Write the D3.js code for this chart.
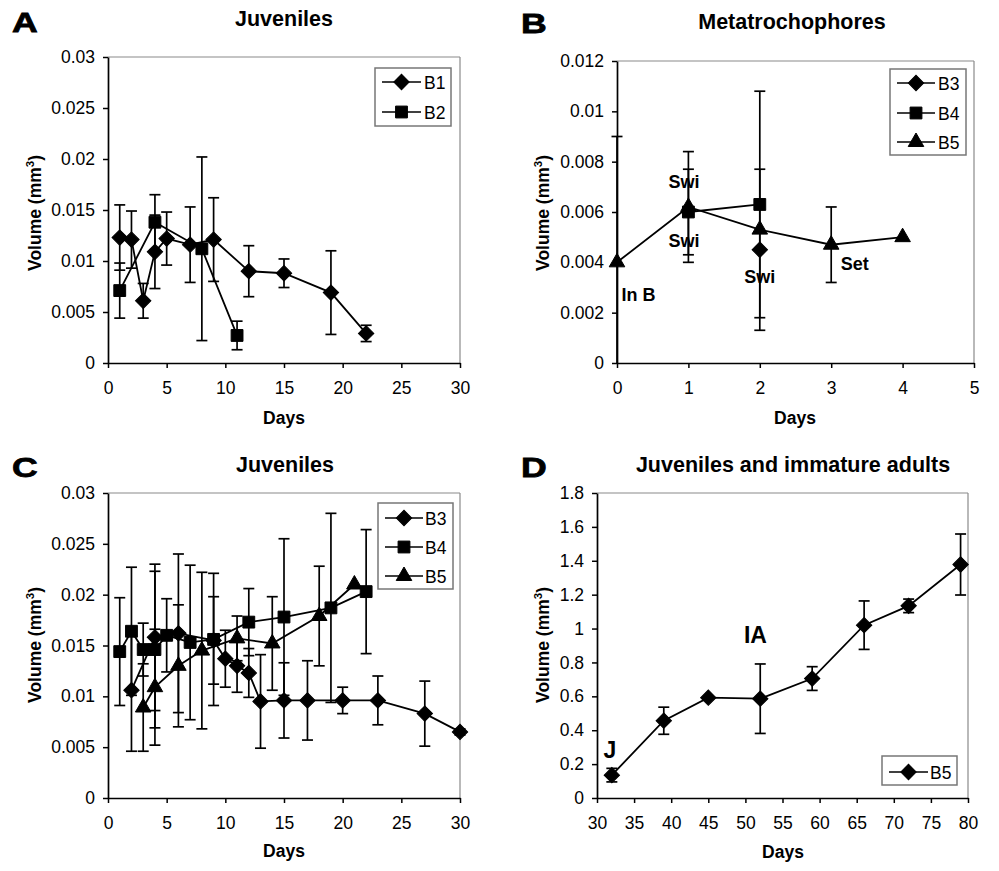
<!DOCTYPE html>
<html>
<head>
<meta charset="utf-8">
<script src="https://cdn.jsdelivr.net/npm/d3@7"></script>
<style>
  html, body { margin: 0; padding: 0; background: #fff; }
  svg { display: block; }
  text { font-family: "Liberation Sans", Arial, sans-serif; fill: #000; }
</style>
</head>
<body>
<div id="chart"></div>
<script>
// ---------------- DATA ----------------
// Panel A : Juveniles (B1, B2)
const daysA_B1 = [1, 2, 3, 4, 5, 7, 9, 12, 15, 19, 22];
const volA_B1  = [0.0123, 0.0121, 0.0061, 0.0109, 0.0122, 0.0116, 0.0121, 0.0090, 0.0088, 0.0069, 0.0029];
const errA_B1  = [0.0032, 0.0028, 0.0017, 0.0036, 0.0026, 0.0037, 0.0041, 0.0025, 0.0014, 0.0041, 0.0008];
const daysA_B2 = [1, 4, 8, 11];
const volA_B2  = [0.0071, 0.0138, 0.0112, 0.0027];
const errA_B2  = [0.0027, 0.0027, 0.0090, 0.0014];

// Panel B : Metatrochophores (B3, B4, B5)
const daysB_B3 = [2];
const volB_B3  = [0.0045];
const errB_B3  = [0.0032];
const daysB_B4 = [1, 2];
const volB_B4  = [0.0060, 0.0063];
const errB_B4  = [0.0017, 0.0045];
const daysB_B5 = [0, 1, 2, 3, 4];
const volB_B5  = [0.0040, 0.0062, 0.0053, 0.0047, 0.0050];
const errB_B5  = [0.0050, 0.0022, 0, 0.0015, 0];
const notesB_text = ["Swi", "Swi", "Swi", "In B", "Set"];
const notesB_day  = [0.94, 0.94, 2.0, 0.30, 3.33];
const notesB_vol  = [0.00695, 0.00461, 0.00318, 0.00246, 0.0037];

// Panel C : Juveniles (B3, B4, B5)
const daysC_B3 = [2, 4, 6, 9, 10, 11, 12, 13, 15, 17, 20, 23, 27, 30];
const volC_B3  = [0.0106, 0.0158, 0.0162, 0.0155, 0.0137, 0.0130, 0.0123, 0.0095, 0.0096, 0.0096, 0.0096, 0.0096, 0.0083, 0.0065];
const errC_B3  = [0.0060, 0.0072, 0.0078, 0.0043, 0.0028, 0.0026, 0.0024, 0.0046, 0.0037, 0.0039, 0.0013, 0.0024, 0.0032, 0.0003];
const daysC_B4 = [1, 2, 3, 4, 5, 7, 9, 12, 15, 19, 22];
const volC_B4  = [0.0144, 0.0164, 0.0146, 0.0146, 0.0160, 0.0153, 0.0156, 0.0173, 0.0178, 0.0187, 0.0203];
const errC_B4  = [0.0053, 0.0063, 0.0026, 0.0077, 0.0036, 0.0076, 0.0065, 0.0033, 0.0077, 0.0093, 0.0061];
const daysC_B5 = [3, 4, 6, 8, 11, 14, 18, 21];
const volC_B5  = [0.0089, 0.0109, 0.0130, 0.0145, 0.0157, 0.0152, 0.0179, 0.0210];
const errC_B5  = [0.0043, 0.0057, 0.0060, 0.0077, 0.0022, 0.0046, 0.0049, 0];

// Panel D : Juveniles and immature adults (B5)
const daysD_B5 = [32, 39, 45, 52, 59, 66, 72, 79];
const volD_B5  = [0.135, 0.456, 0.592, 0.586, 0.705, 1.020, 1.134, 1.378];
const errD_B5  = [0.040, 0.080, 0, 0.205, 0.070, 0.143, 0.040, 0.180];
const notesD_text = ["IA", "J"];
const notesD_day  = [51.36, 31.75];
const notesD_vol  = [0.915, 0.236];

// Tick labels
const ticksJuvY  = [0, 0.005, 0.01, 0.015, 0.02, 0.025, 0.03];
const labelsJuvY = ["0", "0.005", "0.01", "0.015", "0.02", "0.025", "0.03"];
const ticksJuvX  = [0, 5, 10, 15, 20, 25, 30];
const labelsJuvX = ["0", "5", "10", "15", "20", "25", "30"];
const ticksMetY  = [0, 0.002, 0.004, 0.006, 0.008, 0.01, 0.012];
const labelsMetY = ["0", "0.002", "0.004", "0.006", "0.008", "0.01", "0.012"];
const ticksMetX  = [0, 1, 2, 3, 4, 5];
const labelsMetX = ["0", "1", "2", "3", "4", "5"];
const ticksAdY   = [0, 0.2, 0.4, 0.6, 0.8, 1, 1.2, 1.4, 1.6, 1.8];
const labelsAdY  = ["0", "0.2", "0.4", "0.6", "0.8", "1", "1.2", "1.4", "1.6", "1.8"];
const ticksAdX   = [30, 35, 40, 45, 50, 55, 60, 65, 70, 75, 80];
const labelsAdX  = ["30", "35", "40", "45", "50", "55", "60", "65", "70", "75", "80"];

// ---------------- CHART ----------------
const W = 999, H = 871;
const svg = d3.select("#chart").append("svg").attr("width", W).attr("height", H);

function mkSeries(name, shape, days, vols, errs) {
  return { name, shape, pts: days.map((d, i) => ({ x: d, y: vols[i], e: errs[i] })) };
}
function mkNotes(texts, days, vols, size) {
  return texts.map((t, i) => ({ t, x: days[i], y: vols[i], size }));
}

const panels = [
  {
    letter: "A", letterPos: [12, 32], title: "Juveniles", titlePos: [284, 26],
    rect: { l: 108, r: 460, t: 57, b: 363 },
    xDomain: [0, 30], yDomain: [0, 0.03],
    xTicks: ticksJuvX, xLabels: labelsJuvX, yTicks: ticksJuvY, yLabels: labelsJuvY,
    ylabPos: [41, 213], xlabPos: [284, 424],
    series: [mkSeries("B1", "diamond", daysA_B1, volA_B1, errA_B1),
             mkSeries("B2", "square", daysA_B2, volA_B2, errA_B2)],
    legend: { x: 375, y: 68, w: 76, h: 58, rows: [82, 112], lx0: 382, lx1: 421, tx: 424 },
    notes: []
  },
  {
    letter: "B", letterPos: [521, 33], title: "Metatrochophores", titlePos: [792, 29],
    rect: { l: 617, r: 974, t: 61, b: 363 },
    xDomain: [0, 5], yDomain: [0, 0.012],
    xTicks: ticksMetX, xLabels: labelsMetX, yTicks: ticksMetY, yLabels: labelsMetY,
    ylabPos: [549, 213], xlabPos: [795, 424],
    series: [mkSeries("B3", "diamond", daysB_B3, volB_B3, errB_B3),
             mkSeries("B4", "square", daysB_B4, volB_B4, errB_B4),
             mkSeries("B5", "triangle", daysB_B5, volB_B5, errB_B5)],
    legend: { x: 890, y: 69, w: 76, h: 86, rows: [83, 113, 142], lx0: 897, lx1: 935, tx: 938 },
    notes: mkNotes(notesB_text, notesB_day, notesB_vol, 18)
  },
  {
    letter: "C", letterPos: [12, 477], title: "Juveniles", titlePos: [285, 472],
    rect: { l: 108, r: 460, t: 493, b: 798 },
    xDomain: [0, 30], yDomain: [0, 0.03],
    xTicks: ticksJuvX, xLabels: labelsJuvX, yTicks: ticksJuvY, yLabels: labelsJuvY,
    ylabPos: [41, 645], xlabPos: [284, 857],
    series: [mkSeries("B3", "diamond", daysC_B3, volC_B3, errC_B3),
             mkSeries("B4", "square", daysC_B4, volC_B4, errC_B4),
             mkSeries("B5", "triangle", daysC_B5, volC_B5, errC_B5)],
    legend: { x: 378, y: 503, w: 75, h: 86, rows: [518, 547, 576], lx0: 385, lx1: 423, tx: 425 },
    notes: []
  },
  {
    letter: "D", letterPos: [521, 477], title: "Juveniles and immature adults", titlePos: [793, 472],
    rect: { l: 597, r: 968, t: 493, b: 798 },
    xDomain: [30, 80], yDomain: [0, 1.8],
    xTicks: ticksAdX, xLabels: labelsAdX, yTicks: ticksAdY, yLabels: labelsAdY,
    ylabPos: [549, 645], xlabPos: [783, 858],
    series: [mkSeries("B5", "diamond", daysD_B5, volD_B5, errD_B5)],
    legend: { x: 882, y: 756, w: 75, h: 29, rows: [772], lx0: 889, lx1: 928, tx: 930 },
    notes: mkNotes(notesD_text, notesD_day, notesD_vol, 23)
  }
];

const symbolFor = {
  diamond: { type: d3.symbolSquare, size: 118, rot: 45 },
  square: { type: d3.symbolSquare, size: 140, rot: 0 },
  triangle: { type: d3.symbolTriangle, size: 105, rot: 0 }
};

function drawMarker(g, shape, cx, cy) {
  const s = symbolFor[shape];
  g.append("path")
    .attr("d", d3.symbol().type(s.type).size(s.size)())
    .attr("transform", `translate(${cx},${cy}) rotate(${s.rot})`)
    .attr("fill", "#000").attr("stroke", "#000").attr("stroke-width", 1);
}

panels.forEach(p => {
  const g = svg.append("g");
  const R = p.rect;
  const x = d3.scaleLinear().domain(p.xDomain).range([R.l, R.r]);
  const y = d3.scaleLinear().domain(p.yDomain).range([R.b, R.t]);

  // panel letter & title
  g.append("text").text(p.letter)
    .attr("transform", `translate(${p.letterPos[0]},${p.letterPos[1]}) scale(1.25,1)`)
    .attr("font-size", 28.5).attr("font-weight", "bold")
    .attr("stroke", "#000").attr("stroke-width", 0.8);
  g.append("text").text(p.title)
    .attr("x", p.titlePos[0]).attr("y", p.titlePos[1])
    .attr("text-anchor", "middle").attr("font-size", 21.5).attr("font-weight", "bold");

  // plot frame (top/right in grey)
  g.append("line").attr("x1", R.l).attr("x2", R.r).attr("y1", R.t).attr("y2", R.t)
    .attr("stroke", "#8a8a8a").attr("stroke-width", 1.2);
  g.append("line").attr("x1", R.r).attr("x2", R.r).attr("y1", R.t).attr("y2", R.b)
    .attr("stroke", "#8a8a8a").attr("stroke-width", 1.2);

  // axes
  const xAxis = d3.axisBottom(x).tickValues(p.xTicks)
    .tickFormat((d, i) => p.xLabels[i]).tickSize(5).tickSizeOuter(0).tickPadding(14);
  const yAxis = d3.axisLeft(y).tickValues(p.yTicks)
    .tickFormat((d, i) => p.yLabels[i]).tickSize(5).tickSizeOuter(0).tickPadding(8);
  const gx = g.append("g").attr("transform", `translate(0,${R.b})`).call(xAxis);
  const gy = g.append("g").attr("transform", `translate(${R.l},0)`).call(yAxis);
  [gx, gy].forEach(a => {
    a.selectAll("path.domain").attr("stroke", "#000").attr("stroke-width", 1.7);
    a.selectAll(".tick line").attr("stroke", "#000").attr("stroke-width", 1.5);
    a.selectAll(".tick text").attr("font-size", 17.5)
      .attr("font-family", '"Liberation Sans", Arial, sans-serif').attr("fill", "#000");
  });

  // axis titles
  g.append("text").text("Days")
    .attr("x", p.xlabPos[0]).attr("y", p.xlabPos[1])
    .attr("text-anchor", "middle").attr("font-size", 17.5).attr("font-weight", "bold");
  const yl = g.append("text")
    .attr("transform", `translate(${p.ylabPos[0]},${p.ylabPos[1]}) rotate(-90)`)
    .attr("text-anchor", "middle").attr("font-size", 17.5).attr("font-weight", "bold");
  yl.append("tspan").text("Volume (mm");
  yl.append("tspan").text("3").attr("font-size", 11.5).attr("dy", -7);
  yl.append("tspan").text(")").attr("dy", 7);

  // series
  const line = d3.line().x(d => x(d.x)).y(d => y(d.y));
  const ymin = p.yDomain[0], ymax = p.yDomain[1];
  p.series.forEach(s => {
    if (s.pts.length > 1) {
      g.append("path").attr("d", line(s.pts))
        .attr("fill", "none").attr("stroke", "#000").attr("stroke-width", 1.8);
    }
    // error bars
    s.pts.filter(d => d.e > 0).forEach(d => {
      const hi = Math.min(ymax, d.y + d.e), lo = Math.max(ymin, d.y - d.e);
      const cx = x(d.x);
      g.append("line").attr("x1", cx).attr("x2", cx).attr("y1", y(hi)).attr("y2", y(lo))
        .attr("stroke", "#000").attr("stroke-width", 1.7);
      if (d.y + d.e <= ymax)
        g.append("line").attr("x1", cx - 5.5).attr("x2", cx + 5.5).attr("y1", y(hi)).attr("y2", y(hi))
          .attr("stroke", "#000").attr("stroke-width", 1.7);
      if (d.y - d.e >= ymin)
        g.append("line").attr("x1", cx - 5.5).attr("x2", cx + 5.5).attr("y1", y(lo)).attr("y2", y(lo))
          .attr("stroke", "#000").attr("stroke-width", 1.7);
    });
  });
  p.series.forEach(s => {
    s.pts.forEach(d => drawMarker(g, s.shape, x(d.x), y(d.y)));
  });

  // annotations
  p.notes.forEach(n => {
    g.append("text").text(n.t).attr("x", x(n.x)).attr("y", y(n.y))
      .attr("text-anchor", "middle").attr("font-size", n.size).attr("font-weight", "bold");
  });

  // legend
  const L = p.legend;
  g.append("rect").attr("x", L.x).attr("y", L.y).attr("width", L.w).attr("height", L.h)
    .attr("fill", "#fff").attr("stroke", "#777").attr("stroke-width", 1.5);
  p.series.forEach((s, i) => {
    const ry = L.rows[i];
    g.append("line").attr("x1", L.lx0).attr("x2", L.lx1).attr("y1", ry).attr("y2", ry)
      .attr("stroke", "#000").attr("stroke-width", 1.7);
    drawMarker(g, s.shape, (L.lx0 + L.lx1) / 2, ry);
    g.append("text").text(s.name).attr("x", L.tx).attr("y", ry + 6.5)
      .attr("font-size", 17.5);
  });
});
</script>
</body>
</html>
